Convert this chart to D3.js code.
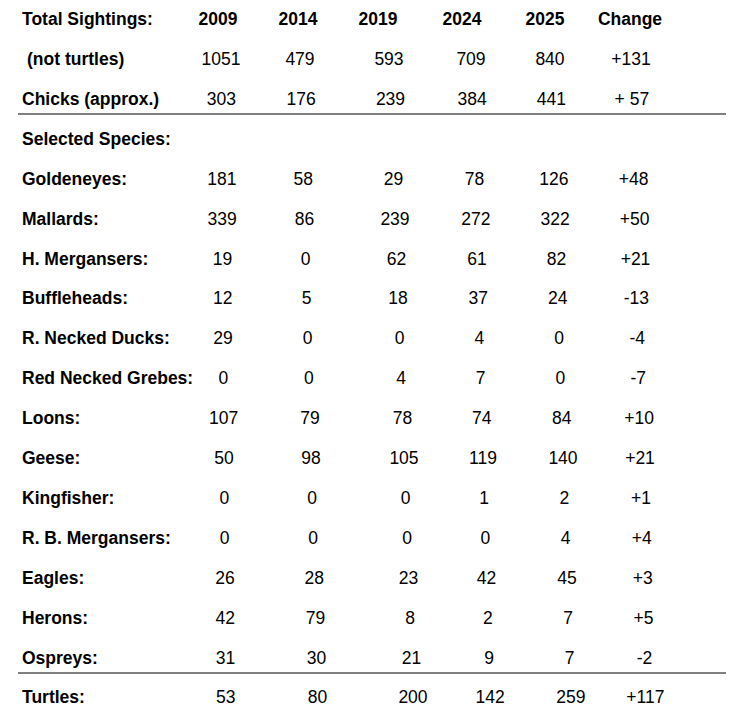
<!DOCTYPE html>
<html><head><meta charset="utf-8">
<script src="https://cdn.jsdelivr.net/npm/d3@7"></script>
<style>body{margin:0;background:#fff}</style>
</head><body><svg id="c" width="743" height="715"></svg>
<script>
const headers = ["2009", "2014", "2019", "2024", "2025", "Change"];
const labels = ["(not turtles)", "Chicks (approx.)", "Selected Species:", "Goldeneyes:", "Mallards:",
  "H. Mergansers:", "Buffleheads:", "R. Necked Ducks:", "Red Necked Grebes:", "Loons:", "Geese:",
  "Kingfisher:", "R. B. Mergansers:", "Eagles:", "Herons:", "Ospreys:", "Turtles:"];
const values = [
  ["1051", "479", "593", "709", "840", "+131"],
  ["303", "176", "239", "384", "441", "+ 57"],
  null,
  ["181", "58", "29", "78", "126", "+48"],
  ["339", "86", "239", "272", "322", "+50"],
  ["19", "0", "62", "61", "82", "+21"],
  ["12", "5", "18", "37", "24", "-13"],
  ["29", "0", "0", "4", "0", "-4"],
  ["0", "0", "4", "7", "0", "-7"],
  ["107", "79", "78", "74", "84", "+10"],
  ["50", "98", "105", "119", "140", "+21"],
  ["0", "0", "0", "1", "2", "+1"],
  ["0", "0", "0", "0", "4", "+4"],
  ["26", "28", "23", "42", "45", "+3"],
  ["42", "79", "8", "2", "7", "+5"],
  ["31", "30", "21", "9", "7", "-2"],
  ["53", "80", "200", "142", "259", "+117"]
];

const svg = d3.select("#c");
const font = "Liberation Sans, Arial, sans-serif";
const y = d3.scaleLinear().domain([0, 17]).range([19, 19 + 17 * 39.9]);
const headX = [218, 298, 378, 462, 545, 630];
const colX = [221, 300, 389, 471, 550, 631];
const drift = [0.3, 1.1, 1.5, 1.2, 1.3, 0.9];

const g = svg.append("g").style("font-family", font).style("font-size", "17.5px").style("fill", "#000");

g.append("text").attr("x", 22).attr("y", y(0)).attr("dy", "0.35em")
  .style("font-weight", "bold").text("Total Sightings:");
g.selectAll("text.h").data(headers).join("text").attr("class", "h")
  .attr("x", (d, i) => headX[i]).attr("y", y(0)).attr("dy", "0.35em")
  .attr("text-anchor", "middle").style("font-weight", "bold").text(d => d);

labels.forEach((lab, r) => {
  g.append("text").attr("x", r === 0 ? 27 : 22).attr("y", y(r + 1)).attr("dy", "0.35em")
    .style("font-weight", "bold").text(lab);
  if (!values[r]) return;
  g.selectAll(null).data(values[r]).join("text")
    .attr("x", (d, i) => colX[i] + drift[i] * r).attr("y", y(r + 1)).attr("dy", "0.35em")
    .attr("text-anchor", "middle").text(d => d);
});

[114, 673].forEach(ly => svg.append("line").attr("x1", 18).attr("x2", 726)
  .attr("y1", ly).attr("y2", ly).attr("stroke", "#000").attr("stroke-width", 1));
</script></body></html>
